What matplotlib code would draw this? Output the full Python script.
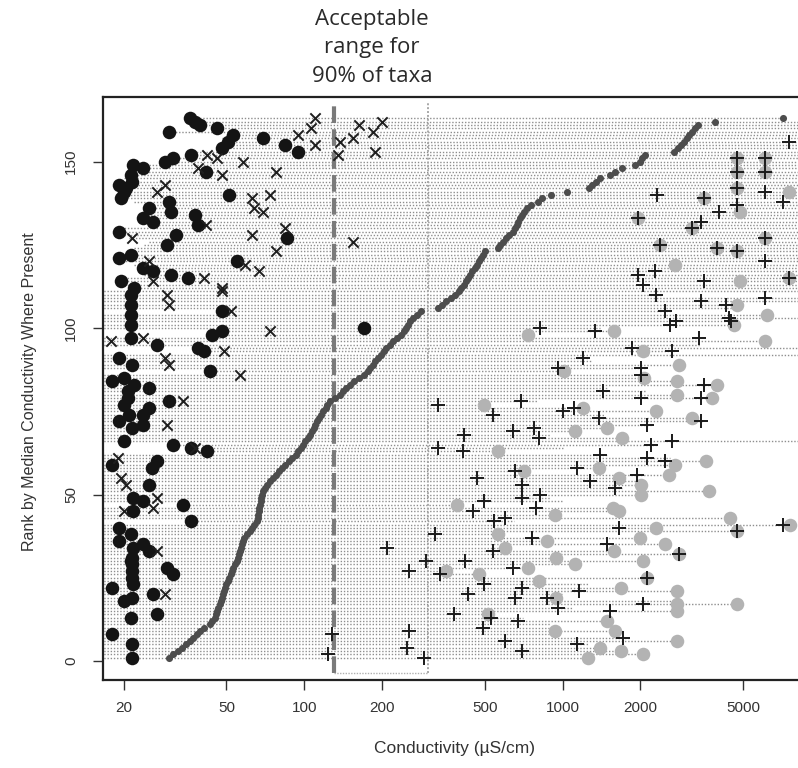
import numpy as np
import matplotlib
matplotlib.use("Agg")
import matplotlib.pyplot as plt

# ---------------- data ----------------
ranks = list(range(1, 164))

median = [30, 31, 32.5, 33.5, 35, 36, 37, 38.5, 39.5, 41,
          43, 44, 45, 45.5, 46, 46.5, 47, 47.5, 48, 48.5,
          49, 49.5, 50, 50.5, 51, 52, 52.5, 53, 54, 55,
          55.5, 56, 56.5, 57, 57.5, 58, 58.5, 60, 61.5, 63,
          64, 65.5, 66, 66.5, 67, 67, 67.5, 68, 68, 68.5,
          69, 70.5, 72, 74, 76, 78, 80, 82, 84, 87,
          90, 93, 95, 97, 99, 101, 103, 105, 107, 109,
          110, 112, 114, 116, 118, 121, 123, 126, 132, 137,
          141, 145, 150, 156, 163, 170, 176, 180, 184, 188,
          193, 198, 203, 208, 214, 220, 228, 237, 243, 248,
          252, 256, 264, 274, 284, 330, 340, 355, 370, 385,
          397, 405, 415, 423, 432, 440, 448, 457, 466, 475,
          483, 492, 500, 560, 575, 590, 605, 620, 640, 655,
          665, 675, 685, 695, 710, 730, 755, 800, 830, 900,
          1040, 1270, 1300, 1350, 1400, 1520, 1600, 1700, 1900, 1990,
          2030, 2080, 2700, 2800, 2870, 2950, 3020, 3100, 3170, 3250,
          3350, 3900, 7150]

line_lo = [15, 15, 15, 15, 15, 15, 15, 15, 15, 15,
           15, 15, 15, 15, 15, 15, 15, 15, 15, 15,
           15, 15, 15, 15, 15, 15, 15, 15, 15, 15,
           15, 15, 15, 15, 15, 15, 15, 15, 15, 15,
           15, 36.4, 15, 15, 15, 15, 34, 15, 15, 15,
           15, 15, 15, 15, 15, 15, 15, 15, 15, 15,
           15, 15, 42, 36.4, 31, 15, 15, 15, 15, 15,
           15, 15, 15, 15, 15, 15, 15, 15, 15, 15,
           15, 15, 15, 15, 15, 15, 43, 15, 15, 15,
           15, 15, 41, 38.8, 15, 15, 15, 44, 48, 15,
           15, 15, 15, 15, 48, 15, 15, 15, 15, 15,
           15, 22, 20, 19.5, 20, 24, 26, 23.7, 22, 19.2,
           19.2, 21.3, 21.3, 22, 24, 25, 21, 20, 19.2, 19.5,
           25, 26, 23.7, 24, 24, 25, 24, 22, 19.5, 20,
           20, 20, 19.2, 20, 20, 21.3, 23, 23.7, 21.8, 29,
           31, 36, 36, 47, 47, 50, 48, 50, 30, 44,
           39, 37, 36]

line_hi = [1255, 2045, 1680, 1400, 1250, 2770, 1800, 935, 1600, 935,
           900, 1480, 700, 515, 2770, 1100, 4750, 2770, 945, 1000,
           2770, 1680, 1250, 810, 2120, 475, 355, 735, 1120, 2045,
           945, 2830, 1580, 600, 2500, 870, 2000, 560, 4750, 2290,
           7600, 650, 4450, 935, 1660, 1570, 390, 1000, 900, 2015,
           3690, 1700, 2015, 2015, 1660, 2580, 710, 1380, 2720, 3600,
           2600, 1500, 560, 1000, 2300, 9000, 1700, 900, 1120, 1490,
           2200, 3500, 3170, 1450, 2290, 1195, 495, 800, 3780, 2770,
           2100, 1500, 3950, 2770, 2060, 2100, 1010, 2100, 2830, 1300,
           1250, 9000, 2700, 9000, 3400, 6100, 3370, 735, 1580, 1400,
           4600, 4500, 9000, 6200, 2600, 4800, 4720, 9000, 9000, 2400,
           9000, 9000, 9000, 9000, 9000, 9000, 9000, 9000, 9000, 9000,
           9000, 9000, 9000, 9000, 9000, 9000, 9000, 9000, 9000, 9000,
           9000, 9000, 9000, 9000, 9000, 9000, 9000, 9000, 9000, 9000,
           9000, 9000, 9000, 9000, 9000, 9000, 9000, 9000, 9000, 9000,
           9000, 9000, 9000, 9000, 9000, 9000, 9000, 9000, 9000, 9000,
           9000, 9000, 7150]

# black filled circles (rank, conductivity)
circle_rank = [163, 162, 161, 159, 160, 158, 156, 154, 157, 155, 153, 152, 150, 151,
               149, 148, 147, 146, 143, 142, 144, 139, 141, 138, 140, 136, 133, 132,
               135, 134, 131, 129, 128, 125, 127, 122, 121, 120, 118, 117, 114, 112,
               116, 115,
               110, 107, 104, 101, 97, 105, 98, 99, 100, 95, 94, 93, 91, 89, 87, 84,
               85, 83, 82, 81, 79, 78, 77, 76, 74, 74, 72, 71, 70, 66, 65, 64, 63,
               59, 58, 60, 53,
               49, 48, 47, 45, 42, 40, 38, 36, 35, 34, 33, 31, 30, 29, 28, 26, 27,
               25, 23, 22, 19, 18, 20, 13, 14, 8, 5, 1]
circle_val = [36, 37.6, 39.6, 30, 46, 53, 50.5, 48, 69, 84, 95, 36.4, 29, 31,
              21.8, 23.7, 41.5, 21.3, 19.2, 20.4, 21.6, 19.5, 20, 30, 51, 25, 23.7, 26,
              30.5, 37.6, 38.8, 19.2, 32, 29.5, 86, 21.3, 19.2, 55, 23.7, 26, 19.5, 22,
              30.5, 35.5,
              21.3, 21.3, 21.3, 21.3, 21.3, 48, 44, 48, 170, 27, 38.8, 41, 19.2, 21.6, 43, 18,
              20, 22, 25, 20.7, 20.7, 30, 20, 25, 21, 23.7, 19.2, 23.7, 21.6, 20, 31, 36.4, 42,
              18, 25.8, 27, 25,
              21.8, 23.7, 34, 21.8, 36.4, 19.2, 21.3, 19.2, 23.7, 21.8, 25, 21.5, 21.3, 21.5, 29.5, 31, 21.6,
              21.5, 21.8, 18, 21.6, 20, 26, 21.3, 27, 18, 21.6, 21.6]

# x markers
x_rank = [163, 160, 158, 155, 152, 151, 150, 147, 148, 146, 141, 143, 139, 140,
          136, 135, 131, 128, 130, 127, 123, 119, 117, 120, 115, 114, 112,
          161, 162, 159, 157, 153, 126, 156, 152,
          110, 111, 107, 105, 99, 96, 97, 93, 91, 89, 86, 78, 71, 61, 55, 53, 64,
          49, 45, 46, 33, 20]
x_val = [110, 106, 95, 110, 42, 46, 58, 78, 38.8, 48, 27, 29, 63, 73.6,
         64, 69, 41.5, 63, 84, 21.6, 78, 59, 67, 25, 41, 26, 48,
         163, 200, 185, 155, 188, 155, 137, 135,
         29.5, 48, 30, 52, 73.6, 17.9, 23.7, 49, 29, 30, 56.5, 34, 29.5, 19, 19.5, 20.4, 37.6,
         27, 20, 26, 27, 29]

# grey filled circles
gcircle_rank = [1, 2, 3, 4, 6, 9, 9, 12, 14, 15, 17, 17, 19, 21, 22, 24, 25, 26, 27,
                28, 29, 30, 31, 32, 33, 34, 35, 36, 37, 38, 39, 40, 41, 43, 44, 45,
                46, 47, 50, 51, 53, 55, 56, 57, 58, 59, 60, 63, 67, 69, 70, 73, 75,
                76, 77, 79, 80, 83, 84, 85, 87, 89, 93, 96, 98, 99, 101, 104, 107,
                114, 115, 119, 123, 124, 125, 127, 130, 133, 135, 139, 141, 142,
                147, 147, 151, 151]
gcircle_val = [1255, 2045, 1680, 1400, 2770, 935, 1600, 1480, 515, 2770, 4750, 2770, 945,
               2770, 1680, 810, 2120, 475, 355, 735, 1120, 2045, 945, 2830, 1580, 600,
               2500, 870, 2000, 560, 4750, 2290, 7600, 4450, 935, 1660, 1570, 390, 2015,
               3690, 2015, 1660, 2580, 710, 1380, 2720, 3600, 560, 1700, 1120, 1490, 3170,
               2290, 1195, 495, 3780, 2770, 3950, 2770, 2060, 1010, 2830, 2045, 6100, 735,
               1580, 4600, 6200, 4720, 4850, 7500, 2720, 4750, 3950, 2390, 6100, 3170,
               1960, 4850, 3540, 7500, 4750, 4750, 6100, 4750, 6100]

# plus markers
plus_rank = [1, 2, 3, 4, 5, 6, 7, 8, 9, 10, 12, 13, 14, 15, 16, 17, 19, 19, 20, 21,
             22, 23, 25, 26, 27, 28, 30, 30, 32, 33, 34, 35, 37, 38, 39, 40, 41, 42,
             43, 45, 46, 48, 49, 50, 52, 53, 54, 55, 56, 57, 58, 60, 61, 62, 63, 64,
             65, 66, 67, 68, 69, 70, 71, 72, 73, 74, 75, 76, 77, 78, 79, 79, 81, 83,
             86, 88, 88, 91, 93, 94, 97, 99, 100, 101, 102, 102, 103, 105, 107, 108,
             109, 110,
             113, 114, 115, 116, 117, 120, 123, 124, 125, 127, 130, 132, 133, 135,
             137, 138, 139, 140, 141, 142, 147, 147, 151, 151, 156]
plus_val = [290, 124, 695, 250, 1140, 600, 1720, 128, 255, 490, 670, 530, 380, 1520, 960,
            2045, 655, 870, 430, 1160, 695, 495, 2120, 335, 255, 640, 420, 295, 2830, 540,
            210, 1480, 760, 320, 4750, 1660, 7150, 545, 600, 450, 790, 495, 695, 820, 1600,
            695, 1280, 465, 1950, 655, 1140, 2500, 2120, 1400, 410, 330, 2200, 2650, 810,
            415, 640, 775, 2120, 3430, 1380, 540, 1000, 1110, 330, 690, 2015, 3430, 1430,
            3540, 2015, 960, 2015, 1195, 2650, 1860, 3370, 1340, 820, 2600, 2750, 4500,
            4400, 2500, 4300, 3430, 6100, 2290,
            2045, 3540, 7500, 1960, 2270, 6100, 4750, 3950, 2390, 6100, 3170, 3430, 1960,
            4020, 4750, 7150, 3540, 2330, 6100, 4750, 4750, 6100, 4750, 6100, 7500]

x_ticks = [20, 50, 100, 200, 500, 1000, 2000, 5000]
y_ticks = [0, 50, 100, 150]
range_bounds = [130, 300]

# ---------------- figure ----------------
fig = plt.figure(figsize=(7.98, 7.68), dpi=100)
ax = fig.add_axes([103 / 798, 1 - 680 / 768, 695 / 798, (680 - 97) / 768])
ax.set_xscale("log")

ax.hlines(ranks, line_lo, line_hi, colors="#8e8e8e", linewidth=1.0,
          linestyles=(0, (1.0, 1.3)), zorder=1)

# acceptable range box
lo_b, hi_b = range_bounds
ax.plot([lo_b, lo_b], [-3.7, 168], color="#7a7a7a", lw=3.0,
        linestyle=(0, (4, 1.5)), zorder=2)
ax.plot([hi_b, hi_b], [-3.7, 168], color="#a8a8a8", lw=1.4,
        linestyle=(0, (1, 1)), zorder=2)
ax.plot([lo_b, hi_b], [-3.7, -3.7], color="#b0b0b0", lw=1.0,
        linestyle=(0, (1, 1)), zorder=2)

ax.scatter(median, ranks, s=26, color="#4d4d4d", linewidths=0, zorder=3)
ax.scatter(gcircle_val, gcircle_rank, s=95, color="#b3b3b3", linewidths=0, zorder=4)
ax.scatter(circle_val, circle_rank, s=95, color="#141414", linewidths=0, zorder=4)
ax.scatter(x_val, x_rank, s=55, marker="x", color="#1e1e1e", linewidths=1.4, zorder=5)
ax.scatter(plus_val, plus_rank, s=90, marker="+", color="#1a1a1a", linewidths=1.4, zorder=5)

ax.set_xlim(16.63, 8155)
ax.set_ylim(-5.7, 169.4)

ax.set_xticks(x_ticks)
ax.set_xticklabels([str(v) for v in x_ticks])
ax.xaxis.set_minor_locator(matplotlib.ticker.NullLocator())
ax.set_yticks(y_ticks)
ax.set_yticklabels([str(v) for v in y_ticks], rotation=90, va="center")

for lab in ax.get_xticklabels() + ax.get_yticklabels():
    lab.set_fontfamily("Liberation Sans")
    lab.set_fontsize(11)
    lab.set_color("#333333")
ax.tick_params(axis="x", length=7, width=1.0, pad=8, color="#333333")
ax.tick_params(axis="y", length=7, width=1.0, pad=11, color="#333333")

for side in ["left", "bottom", "top"]:
    ax.spines[side].set_linewidth(1.6)
    ax.spines[side].set_color("#222222")
ax.spines["right"].set_visible(False)

fig.text(455 / 798, 1 - 748 / 768, "Conductivity (µS/cm)", ha="center", va="center",
         fontsize=12.5, family="Liberation Sans", color="#333333")
fig.text(30 / 798, 1 - 392 / 768, "Rank by Median Conductivity Where Present",
         ha="center", va="center", rotation=90, fontsize=11.5,
         family="Liberation Sans", color="#333333")
fig.text(372 / 798, 1 - 48 / 768, "Acceptable\nrange for\n90% of taxa",
         ha="center", va="center", fontsize=16, family="Open Sans",
         color="#2a2a2a", linespacing=1.45)

fig.savefig("out.png", dpi=100)
